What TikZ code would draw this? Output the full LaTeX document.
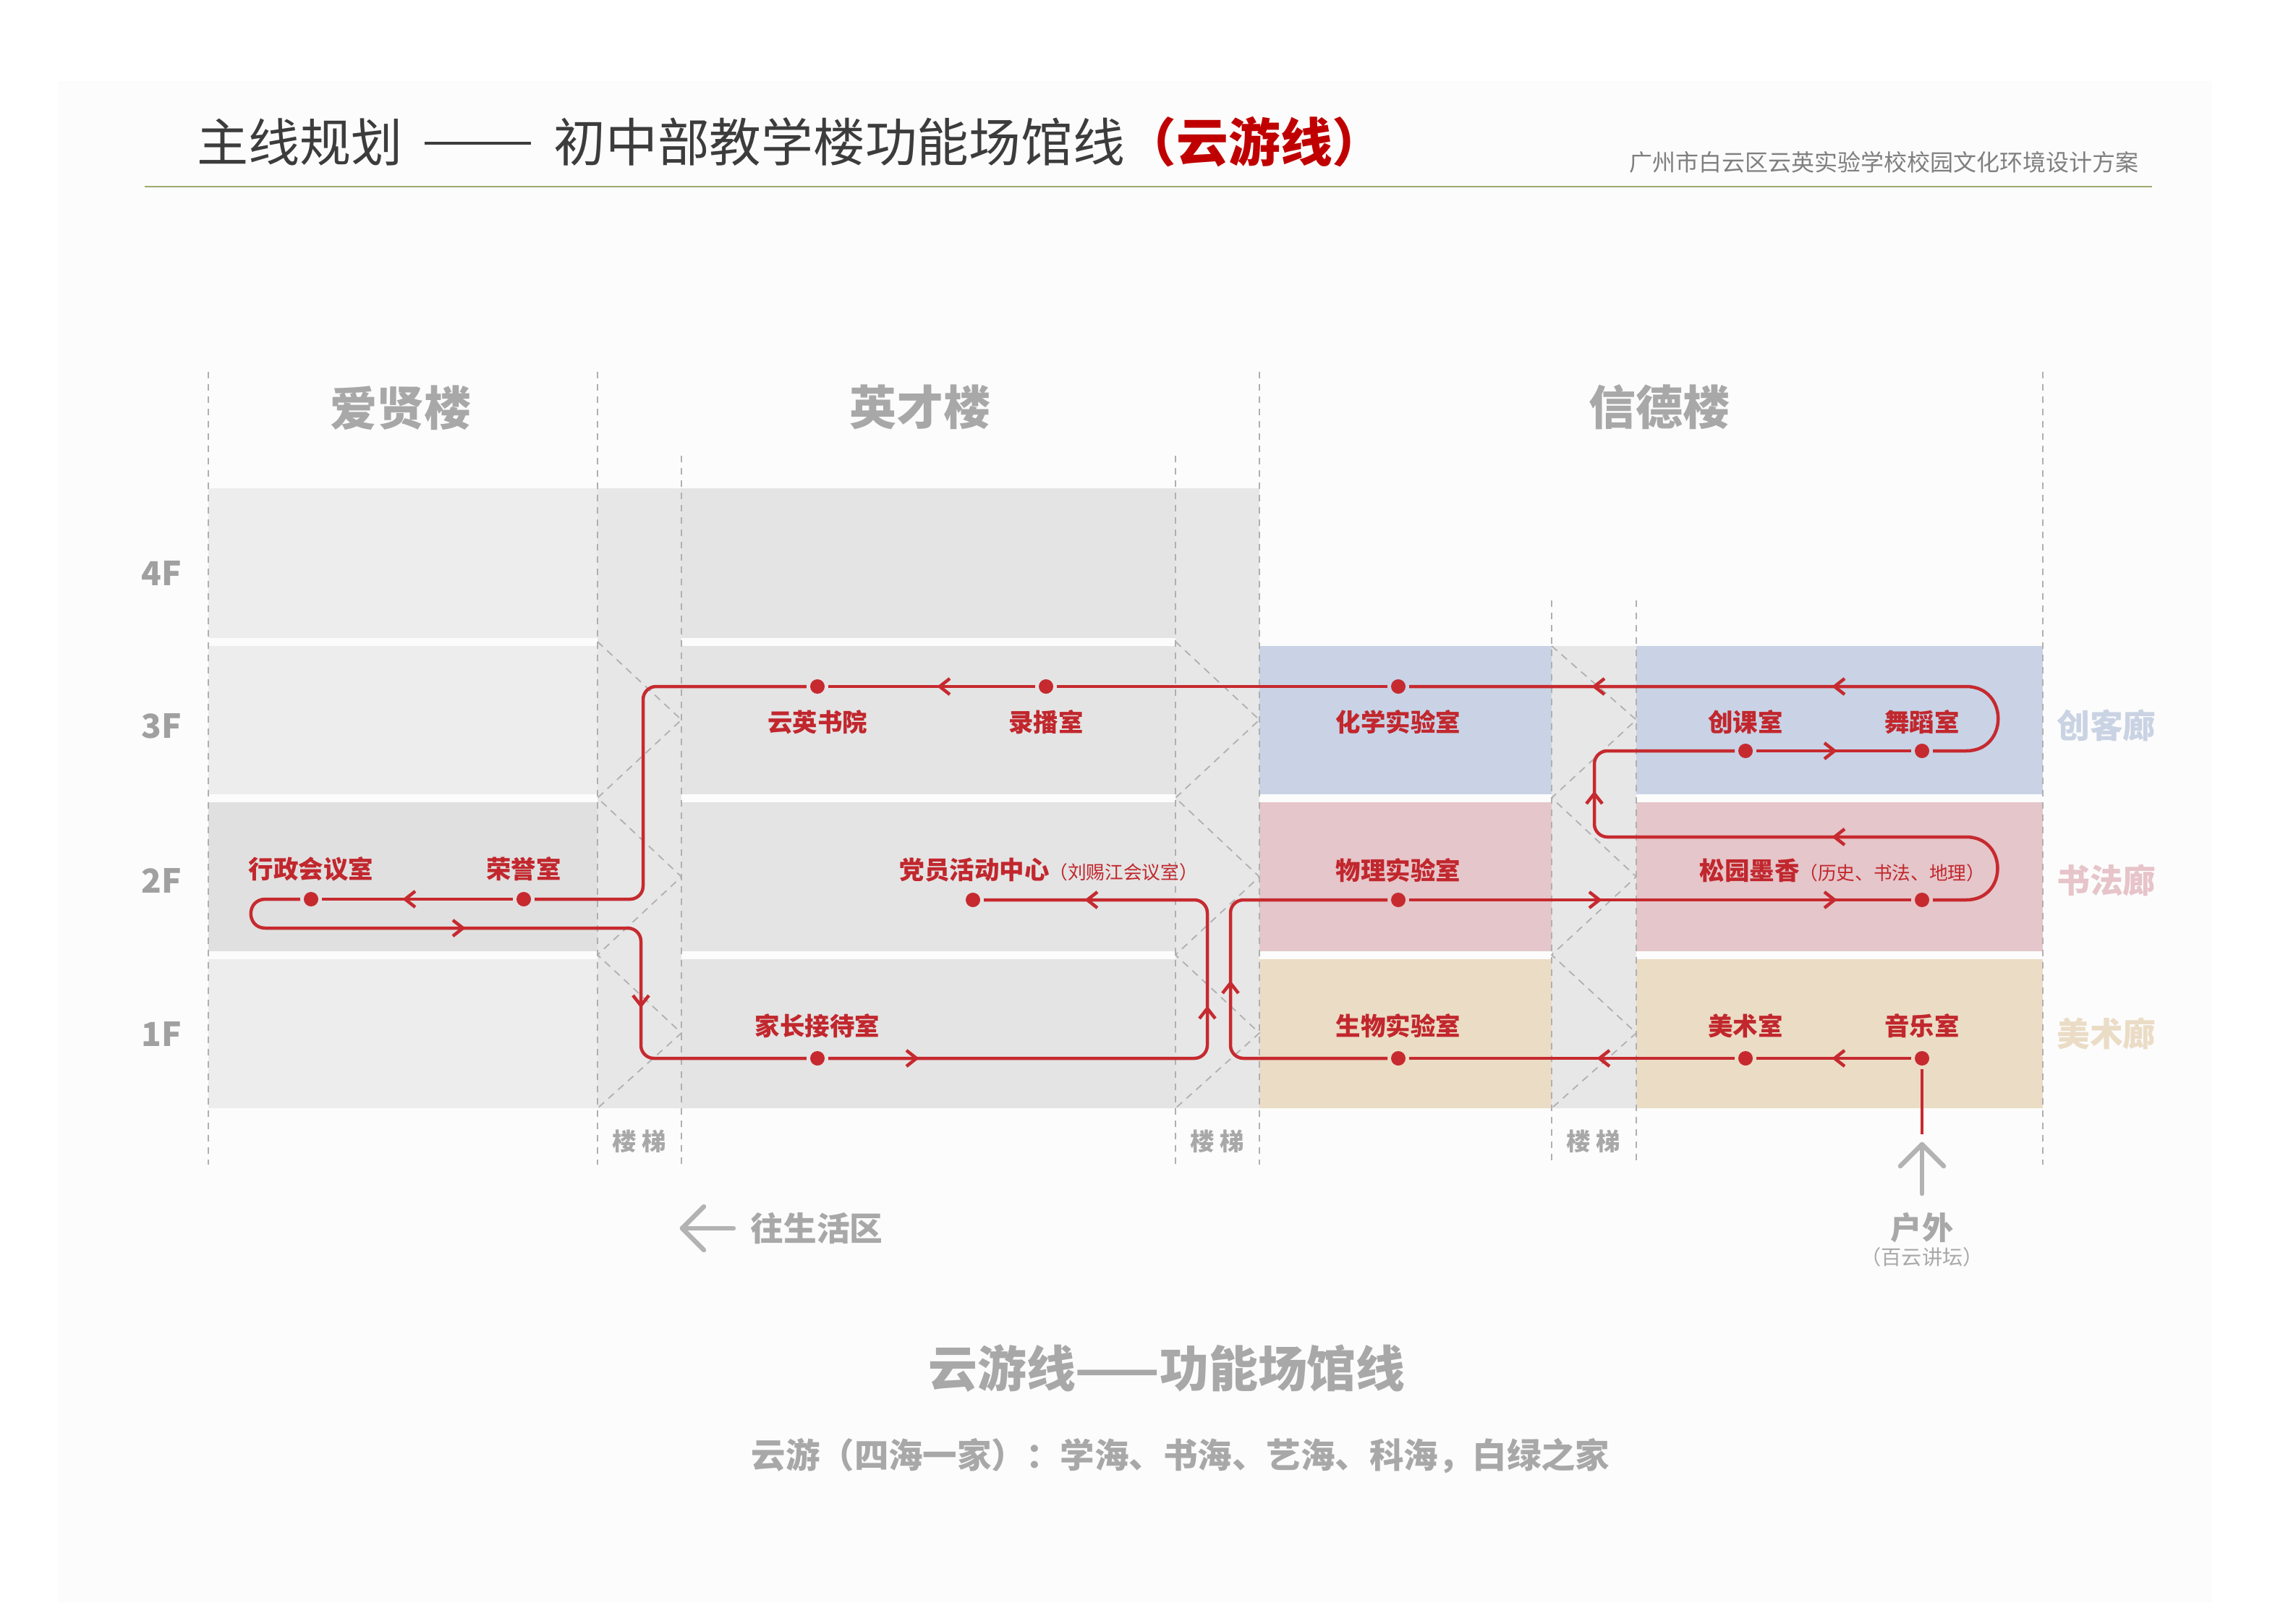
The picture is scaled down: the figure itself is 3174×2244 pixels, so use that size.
\documentclass[tikz,border=0pt]{standalone}
\usepackage{fontspec}
\setmainfont{Noto Sans CJK SC}
\definecolor{routered}{HTML}{C62A2F}
\definecolor{labelred}{HTML}{C1272D}
\definecolor{titlegray}{HTML}{3C3C3C}
\definecolor{titlered}{HTML}{C00000}
\definecolor{subgray}{HTML}{7F7F7F}
\definecolor{ruleolive}{HTML}{9DAA6E}
\definecolor{bldgray}{HTML}{A8A8A8}
\definecolor{dashgray}{HTML}{B0B0B0}
\definecolor{axlight}{HTML}{EDEDED}
\definecolor{axdark}{HTML}{E1E0E0}
\definecolor{ycgray}{HTML}{E4E4E4}
\definecolor{stairgray}{HTML}{E7E7E7}
\definecolor{bandblue}{HTML}{C9D3E5}
\definecolor{bandpink}{HTML}{E5C6CA}
\definecolor{bandbeige}{HTML}{EBDCC5}
\definecolor{lblblue}{HTML}{CAD3E3}
\definecolor{lblpink}{HTML}{E6C4C9}
\definecolor{lblbeige}{HTML}{EBDCC6}
\definecolor{cardbg}{HTML}{FCFCFC}
\definecolor{arrowgray}{HTML}{B3B3B3}
\begin{document}
\begin{tikzpicture}[x=0.01cm,y=-0.01cm,
  routeline/.style={draw=routered,line width=0.045cm,line cap=butt,line join=round},
  dot/.style={circle,fill=routered,minimum size=0.2cm,inner sep=0pt,outer sep=0.05cm},
  room/.style={font=\fontsize{9.8}{11}\selectfont\bfseries,text=labelred,inner sep=0pt},
  bldtitle/.style={font=\fontsize{18.5}{22}\selectfont\bfseries,text=bldgray,inner sep=0pt},
  floorlbl/.style={font=\fontsize{13}{15}\selectfont\bfseries,text=bldgray!95!black,inner sep=0pt},
  corridor/.style={font=\fontsize{13}{15}\selectfont\bfseries,inner sep=0pt},
  stairlbl/.style={font=\fontsize{9.5}{11}\selectfont\bfseries,text=bldgray,inner sep=0pt},
  vdash/.style={draw=dashgray,line width=0.02cm,dash pattern=on 0.09cm off 0.08cm},
  stairdash/.style={draw=dashgray,line width=0.018cm,dash pattern=on 0.1cm off 0.08cm},
  grayarrow/.style={draw=arrowgray,line width=0.065cm,line cap=round,line join=round},
  chev/.pic={\draw[routeline,line join=miter] (14,-11) -- (0,0) -- (14,11);}
]
\useasboundingbox (0,0) rectangle (3174,2244);
\fill[white] (0,0) rectangle (3174,2244);
\fill[cardbg] (80,112) rectangle (3058,2215);

% header
\node[anchor=west,inner sep=0pt,font=\fontsize{20.2}{24}\selectfont,text=titlegray] (title) at (272,196)
  {主线规划};
\node[anchor=west,inner sep=0pt] (titledash) at (586,198) {\color{titlegray}\rule{1.47cm}{0.033cm}};
\node[anchor=west,inner sep=0pt,font=\fontsize{20.4}{24}\selectfont,text=titlegray] (title2) at (765,196)
  {初中部教学楼功能场馆线{\bfseries\color{titlered}（云游线）}};
\node[anchor=east,inner sep=0pt,font=\fontsize{9.1}{11}\selectfont,text=subgray] (subtitle) at (2957,224)
  {广州市白云区云英实验学校校园文化环境设计方案};
\draw[ruleolive,line width=0.02cm] (200,258) -- (2975,258);

% floor bands
\fill[axlight] (288,675) rectangle (826,882);
\fill[axlight] (288,893) rectangle (826,1098);
\fill[axdark]  (288,1109) rectangle (826,1315);
\fill[axlight] (288,1326) rectangle (826,1532);
\fill[stairgray] (826,675) rectangle (942,1532);
\fill[ycgray] (942,675) rectangle (1625,882);
\fill[ycgray] (942,893) rectangle (1625,1098);
\fill[ycgray] (942,1109) rectangle (1625,1315);
\fill[ycgray] (942,1326) rectangle (1625,1532);
\fill[stairgray] (1625,675) rectangle (1741,1532);
\fill[bandblue]  (1741,893) rectangle (2145,1098);
\fill[bandpink]  (1741,1109) rectangle (2145,1315);
\fill[bandbeige] (1741,1326) rectangle (2145,1532);
\fill[stairgray] (2145,893) rectangle (2262,1532);
\fill[bandblue]  (2262,893) rectangle (2824,1098);
\fill[bandpink]  (2262,1109) rectangle (2824,1315);
\fill[bandbeige] (2262,1326) rectangle (2824,1532);

% stair zigzags
\draw[stairdash] (826,887) -- (942,995) -- (826,1103) -- (942,1212) -- (826,1320) -- (942,1428) -- (826,1532);
\draw[stairdash] (1625,887) -- (1741,995) -- (1625,1103) -- (1741,1212) -- (1625,1320) -- (1741,1428) -- (1625,1532);
\draw[stairdash] (2145,893) -- (2262,995) -- (2145,1103) -- (2262,1212) -- (2145,1320) -- (2262,1428) -- (2145,1532);

% vertical dashed lines
\draw[vdash] (288,514) -- (288,1610);
\draw[vdash] (826,514) -- (826,1610);
\draw[vdash] (942,630) -- (942,1610);
\draw[vdash] (1625,630) -- (1625,1610);
\draw[vdash] (1741,514) -- (1741,1610);
\draw[vdash] (2145,830) -- (2145,1610);
\draw[vdash] (2262,830) -- (2262,1610);
\draw[vdash] (2824,514) -- (2824,1610);

% building titles
\node[bldtitle] (bAixian) at (554,564) {爱贤楼};
\node[bldtitle] (bYingcai) at (1272,563) {英才楼};
\node[bldtitle] (bXinde) at (2294,563) {信德楼};

% floor labels
\node[floorlbl] (f4) at (223,792) {4F};
\node[floorlbl] (f3) at (223,1004) {3F};
\node[floorlbl] (f2) at (223,1217) {2F};
\node[floorlbl] (f1) at (223,1429) {1F};

% corridor labels
\node[corridor,text=lblblue] (cChuangke) at (2912,1003) {创客廊};
\node[corridor,text=lblpink] (cShufa) at (2912,1217) {书法廊};
\node[corridor,text=lblbeige] (cMeishu) at (2912,1429) {美术廊};

% stair labels
\node[stairlbl] (s1) at (884,1578) {楼 梯};
\node[stairlbl] (s2) at (1683,1578) {楼 梯};
\node[stairlbl] (s3) at (2203,1578) {楼 梯};

% route stops
\node[dot] (yinyue) at (2657,1463) {};
\node[dot] (meishu) at (2413,1463) {};
\node[dot] (shengwu) at (1933,1463) {};
\node[dot] (wuli) at (1933,1244) {};
\node[dot] (songyuan) at (2657,1244) {};
\node[dot] (chuangke) at (2413,1038) {};
\node[dot] (wudao) at (2657,1038) {};
\node[dot] (huaxue) at (1933,949) {};
\node[dot] (lubo) at (1446,949) {};
\node[dot] (yunying) at (1130,949) {};
\node[dot] (rongyu) at (724,1243) {};
\node[dot] (xingzheng) at (430,1243) {};
\node[dot] (jiazhang) at (1130,1463) {};
\node[dot] (dangyuan) at (1345,1244) {};
\coordinate (outdoor) at (2657,1568);

% route
\draw[routeline] (outdoor) -- (yinyue);
\draw[routeline] (yinyue) -- (meishu);
\draw[routeline] (meishu) -- (shengwu);
\draw[routeline,rounded corners=0.18cm] (shengwu) -- (1701,1463) -- (1701,1244) -- (wuli);
\draw[routeline] (wuli) -- (songyuan);
\draw[routeline] (songyuan) -- (2718,1244) .. controls (2776,1244) and (2776,1157) .. (2718,1157)
  [rounded corners=0.18cm] -- (2204,1157) -- (2204,1038) -- (chuangke);
\draw[routeline] (chuangke) -- (wudao);
\draw[routeline] (wudao) -- (2718,1038) .. controls (2777,1038) and (2777,949) .. (2718,949) -- (huaxue);
\draw[routeline] (huaxue) -- (lubo);
\draw[routeline] (lubo) -- (yunying);
\draw[routeline,rounded corners=0.18cm] (yunying) -- (889,949) -- (889,1243) -- (rongyu);
\draw[routeline] (rongyu) -- (xingzheng);
\draw[routeline] (xingzheng) -- (367,1243) .. controls (340,1243) and (340,1283) .. (367,1283)
  [rounded corners=0.18cm] -- (886,1283) -- (886,1463) -- (jiazhang);
\draw[routeline,rounded corners=0.18cm] (jiazhang) -- (1669,1463) -- (1669,1244) -- (dangyuan);

% direction marks
\pic at (2536,1463) {chev};
\pic at (2211,1463) {chev};
\pic at (2536,1157) {chev};
\pic at (2536,949) {chev};
\pic at (2204,949) {chev};
\pic at (1299,949) {chev};
\pic at (560,1243) {chev};
\pic at (1503,1244) {chev};
\pic[rotate=180] at (2211,1244) {chev};
\pic[rotate=180] at (2536,1244) {chev};
\pic[rotate=180] at (2536,1038) {chev};
\pic[rotate=180] at (640,1283) {chev};
\pic[rotate=180] at (1267,1463) {chev};
\pic[rotate=-90] at (1701,1359) {chev};
\pic[rotate=-90] at (2204,1097) {chev};
\pic[rotate=-90] at (1669,1394) {chev};
\pic[rotate=90] at (886,1390) {chev};

% room labels
\node[room] (lXingzheng) at (430,1201) {行政会议室};
\node[room] (lRongyu) at (724,1201) {荣誉室};
\node[room] (lYunying) at (1130,998) {云英书院};
\node[room] (lLubo) at (1446,998) {录播室};
\node[room] (lJiazhang) at (1130,1418) {家长接待室};
\node[room,anchor=west] (lDangyuan) at (1243,1203) {党员活动中心{\fontsize{7.3}{8}\selectfont\mdseries （刘赐江会议室）}};
\node[room] (lHuaxue) at (1933,998) {化学实验室};
\node[room] (lWuli) at (1933,1203) {物理实验室};
\node[room] (lShengwu) at (1933,1418) {生物实验室};
\node[room] (lChuangke) at (2413,998) {创课室};
\node[room] (lWudao) at (2657,998) {舞蹈室};
\node[room,anchor=west] (lSongyuan) at (2349,1203) {松园墨香{\fontsize{7.3}{8}\selectfont\mdseries （历史、书法、地理）}};
\node[room] (lMeishu) at (2413,1418) {美术室};
\node[room] (lYinyue) at (2657,1418) {音乐室};

% bottom annotations
\coordinate (leftTip) at (943,1698);
\coordinate (leftTail) at (1014,1698);
\draw[grayarrow] (leftTail) -- (leftTip);
\draw[grayarrow] (973,1668) -- (leftTip) -- (973,1728);
\node[anchor=west,inner sep=0pt,font=\fontsize{13}{15}\selectfont\bfseries,text=bldgray] (toLife) at (1037,1698) {往生活区};

\coordinate (upTip) at (2657,1582);
\coordinate (upTail) at (2657,1650);
\draw[grayarrow] (upTail) -- (upTip);
\draw[grayarrow] (2627,1612) -- (upTip) -- (2687,1612);
\node[inner sep=0pt,font=\fontsize{12.3}{14}\selectfont\bfseries,text=bldgray] (outdoorLbl) at (2657,1697) {户外};
\node[inner sep=0pt,font=\fontsize{8}{9}\selectfont,text=bldgray] (outdoorSub) at (2657,1738) {（百云讲坛）};

\node[inner sep=0pt,font=\fontsize{19.3}{23}\selectfont\bfseries,text=bldgray] (bottomTitle) at (1613,1892) {云游线——功能场馆线};
\node[inner sep=0pt,font=\fontsize{13.5}{16}\selectfont\bfseries,text=bldgray] (bottomSub) at (1632,2012) {云游（四海一家）：学海、书海、艺海、科海，白绿之家};
\end{tikzpicture}
\end{document}
